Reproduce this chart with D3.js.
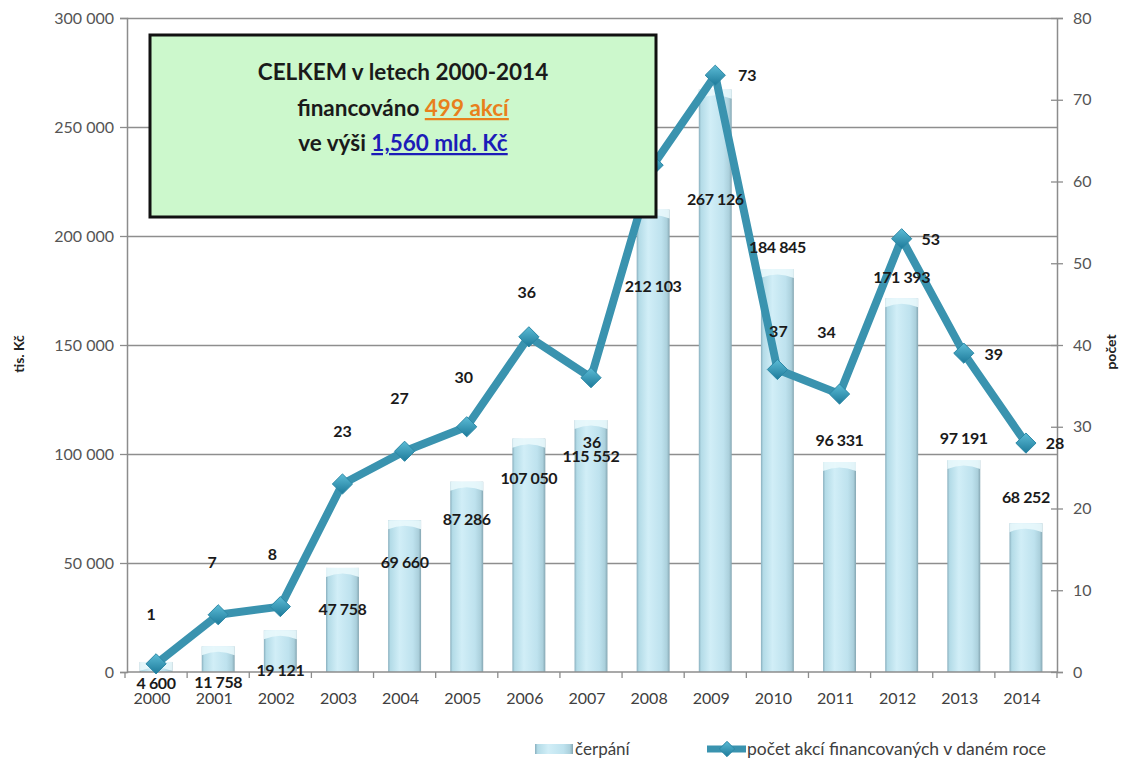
<!DOCTYPE html>
<html>
<head>
<meta charset="utf-8">
<script src="https://cdn.jsdelivr.net/npm/d3@7"></script>
<style>
	body { margin: 0; background: #fff; }
	svg { display: block; }
	text { font-family: Lato, "Noto Sans", sans-serif; }
</style>
</head>
<body>
<div id="graf"></div>
<script>
// -----DATA-----
var roky = ["2000", "2001", "2002", "2003", "2004", "2005", "2006", "2007", "2008", "2009", "2010", "2011", "2012", "2013", "2014"];
// čerpání v tis. Kč
var cerpani = [4600, 11758, 19121, 47758, 69660, 87286, 107050, 115552, 212103, 267126, 184845, 96331, 171393, 97191, 68252];
// počet akcí financovaných v daném roce
var pocet = [1, 7, 8, 23, 27, 30, 41, 36, 62, 73, 37, 34, 53, 39, 28];
// popisky tak, jak jsou v originále (2006 má popisek 36)
var pocetPopisky = ["1", "7", "8", "23", "27", "30", "36", "36", "62", "73", "37", "34", "53", "39", "28"];
var levaOsaTicks = [0, 50000, 100000, 150000, 200000, 250000, 300000];
var pravaOsaTicks = [0, 10, 20, 30, 40, 50, 60, 70, 80];

// -----ROZMĚRY-----
var width = 1125,
	height = 771;
var levy = 127,
	pravy = 1057,
	horni = 18,
	dolni = 672;

var x = d3.scaleBand().domain(roky).range([levy - 2, pravy]).paddingInner(0.47).paddingOuter(0.235);
var xStred = d3.scaleBand().domain(roky).range([levy - 2, pravy]);
var y = d3.scaleLinear().domain([0, 300000]).range([dolni, horni]);
var y2 = d3.scaleLinear().domain([0, 80]).range([dolni, horni]);

var fmt = function (v) {
	return d3.format(",")(v).replace(/,/g, " ");
};

var svg = d3.select("#graf").append("svg")
	.attr("width", width)
	.attr("height", height);

var defs = svg.append("defs");

// gradient válce
var gBar = defs.append("linearGradient").attr("id", "sloupec").attr("x1", 0).attr("x2", 1).attr("y1", 0).attr("y2", 0);
gBar.append("stop").attr("offset", "0%").attr("stop-color", "#89afbe");
gBar.append("stop").attr("offset", "7%").attr("stop-color", "#b3dbe7");
gBar.append("stop").attr("offset", "35%").attr("stop-color", "#d1eef7");
gBar.append("stop").attr("offset", "75%").attr("stop-color", "#bee2ee");
gBar.append("stop").attr("offset", "92%").attr("stop-color", "#abd0dc");
gBar.append("stop").attr("offset", "100%").attr("stop-color", "#85a6b2");

var gDia = defs.append("linearGradient").attr("id", "kosoctverec").attr("x1", 0).attr("x2", 0).attr("y1", 0).attr("y2", 1);
gDia.append("stop").attr("offset", "0%").attr("stop-color", "#5cbcd6");
gDia.append("stop").attr("offset", "100%").attr("stop-color", "#1d7a9a");

// -----MŘÍŽKA-----
svg.append("g").selectAll("line")
	.data(levaOsaTicks.filter(function (d) { return d > 0; }))
	.enter().append("line")
	.attr("x1", levy).attr("x2", pravy)
	.attr("y1", function (d) { return Math.round(y(d)) + 0.5; })
	.attr("y2", function (d) { return Math.round(y(d)) + 0.5; })
	.attr("stroke", "#8e8e8e")
	.attr("stroke-width", 1.4);

// -----SLOUPCE-----
var sloupce = svg.append("g").selectAll("g")
	.data(cerpani)
	.enter().append("g");

sloupce.append("rect")
	.attr("x", function (d, i) { return x(roky[i]); })
	.attr("y", function (d) { return y(d); })
	.attr("width", x.bandwidth())
	.attr("height", function (d) { return dolni - y(d); })
	.attr("fill", "url(#sloupec)");

// světlý vrchlík válce
sloupce.append("path")
	.attr("d", function (d, i) {
		var x0 = x(roky[i]), w = x.bandwidth(), t = y(d);
		var h = Math.min(9, dolni - t);
		return "M" + x0 + "," + t + "h" + w + "v" + h + "q" + (-w / 2) + "," + (-7) + " " + (-w) + ",0z";
	})
	.attr("fill", "#e9f8fc")
	.attr("opacity", 0.9);

// -----OSY-----
var osaX = svg.append("g").attr("transform", "translate(0," + dolni + ")");
osaX.append("line").attr("x1", levy).attr("x2", pravy).attr("stroke", "#8c8c8c").attr("stroke-width", 1.5);
osaX.selectAll("line.tick")
	.data(roky.concat(["konec"]))
	.enter().append("line")
	.attr("class", "tick")
	.attr("x1", function (d, i) { return levy - 2 + xStred.step() * i; })
	.attr("x2", function (d, i) { return levy - 2 + xStred.step() * i; })
	.attr("y1", 0).attr("y2", 6)
	.attr("stroke", "#8c8c8c").attr("stroke-width", 1.3);

var levaOsa = d3.axisLeft(y).tickValues(levaOsaTicks).tickSize(7).tickFormat(fmt);
var gL = svg.append("g").attr("transform", "translate(" + levy + ",0)").call(levaOsa);
var pravaOsa = d3.axisRight(y2).tickValues(pravaOsaTicks).tickSize(6);
var gR = svg.append("g").attr("transform", "translate(" + pravy + ",0)").call(pravaOsa);

[gL, gR].forEach(function (g) {
	g.select(".domain").attr("stroke", "#8c8c8c").attr("stroke-width", 1.5);
	g.selectAll(".tick line").attr("stroke", "#8c8c8c").attr("stroke-width", 1.3);
	g.selectAll(".tick text").attr("fill", "#555").style("font-size", "16px")
		.style("font-family", "Lato, 'Noto Sans', sans-serif");
});
gL.selectAll(".tick text").attr("x", -13);
gR.selectAll(".tick line").attr("x1", -6);
gR.selectAll(".tick text").attr("x", 16);

// popisky let
svg.append("g").selectAll("text")
	.data(roky)
	.enter().append("text")
	.attr("x", function (d) { return xStred(d) + xStred.bandwidth() / 2 - 4; })
	.attr("y", 704)
	.attr("text-anchor", "middle")
	.attr("fill", "#404040")
	.style("font-size", "16px")
	.text(function (d) { return d; });

// názvy os
svg.append("text")
	.attr("transform", "translate(24,354) rotate(-90)")
	.attr("text-anchor", "middle")
	.attr("font-weight", "bold")
	.attr("fill", "#222")
	.style("font-size", "14px")
	.text("tis. Kč");
svg.append("text")
	.attr("transform", "translate(1116,352) rotate(-90)")
	.attr("text-anchor", "middle")
	.attr("font-weight", "bold")
	.attr("fill", "#222")
	.style("font-size", "14px")
	.text("počet");

// -----ČÁRA-----
var cara = d3.line()
	.x(function (d, i) { return xStred(roky[i]) + xStred.bandwidth() / 2; })
	.y(function (d) { return y2(d); });

svg.append("path")
	.datum(pocet)
	.attr("d", cara)
	.attr("fill", "none")
	.attr("stroke", "#3a93af")
	.attr("stroke-width", 8)
	.attr("stroke-linejoin", "round");

var diamant = d3.symbol().type(d3.symbolDiamond2).size(260);
svg.append("g").selectAll("path")
	.data(pocet)
	.enter().append("path")
	.attr("d", diamant)
	.attr("transform", function (d, i) {
		return "translate(" + (xStred(roky[i]) + xStred.bandwidth() / 2) + "," + y2(d) + ")";
	})
	.attr("fill", "url(#kosoctverec)")
	.attr("stroke", "#2b88a6")
	.attr("stroke-width", 1);

// -----POPISKY DAT-----
// posuny popisků (ručně rozmístěné jako v Excelu)
var sloupecDy = [21, 36, 40, 42, 42, 38, 40, 36, 77, 110, -22, -22, -21, -22, -26];
var bodPosun = [[-5, -49], [-6, -52], [-8, -52], [0, -53], [-5, -53], [-3, -49], [-2, -44], [1, 65],
	[-20, -50], [32, 0], [1, -38], [-13, -62], [29, 1], [30, 1], [29, 0]];

svg.append("g").selectAll("text")
	.data(cerpani)
	.enter().append("text")
	.attr("x", function (d, i) { return xStred(roky[i]) + xStred.bandwidth() / 2; })
	.attr("y", function (d, i) { return y(d) + sloupecDy[i]; })
	.attr("dy", "0.35em")
	.attr("text-anchor", "middle")
	.attr("font-weight", "bold")
	.attr("fill", "#1a1a1a")
	.attr("letter-spacing", "-0.4")
	.style("font-size", "16px")
	.text(fmt);

svg.append("g").selectAll("text")
	.data(pocet)
	.enter().append("text")
	.attr("x", function (d, i) { return xStred(roky[i]) + xStred.bandwidth() / 2 + bodPosun[i][0]; })
	.attr("y", function (d, i) { return y2(d) + bodPosun[i][1]; })
	.attr("dy", "0.35em")
	.attr("text-anchor", "middle")
	.attr("font-weight", "bold")
	.attr("fill", "#1a1a1a")
	.style("font-size", "16px")
	.text(function (d, i) { return pocetPopisky[i]; });

// -----RÁMEČEK SE SOUHRNEM-----
var box = svg.append("g");
box.append("rect")
	.attr("x", 150).attr("y", 35)
	.attr("width", 506).attr("height", 182)
	.attr("fill", "#ccf8cc")
	.attr("stroke", "#111")
	.attr("stroke-width", 3);

var boxText = box.append("text")
	.attr("text-anchor", "middle")
	.attr("font-weight", "bold")
	.attr("fill", "#1a1a1a")
	.style("font-size", "22.5px");
boxText.append("tspan").attr("x", 403).attr("y", 80).text("CELKEM v letech 2000-2014");
var r2 = boxText.append("tspan").attr("x", 403).attr("y", 116);
r2.append("tspan").text("financováno ");
r2.append("tspan").attr("fill", "#e8801c").attr("text-decoration", "underline").text("499 akcí");
var r3 = boxText.append("tspan").attr("x", 403).attr("y", 151);
r3.append("tspan").text("ve výši ");
r3.append("tspan").attr("fill", "#1c1cb8").attr("text-decoration", "underline").text("1,560 mld. Kč");

// -----LEGENDA-----
var leg = svg.append("g");
leg.append("rect")
	.attr("x", 535).attr("y", 744)
	.attr("width", 38).attr("height", 10)
	.attr("fill", "url(#sloupec)");
leg.append("text")
	.attr("x", 575).attr("y", 755)
	.attr("fill", "#404040")
	.style("font-size", "17px")
	.text("čerpání");
leg.append("line")
	.attr("x1", 707).attr("x2", 746)
	.attr("y1", 749).attr("y2", 749)
	.attr("stroke", "#3a93af").attr("stroke-width", 7);
leg.append("path")
	.attr("d", d3.symbol().type(d3.symbolDiamond2).size(150))
	.attr("transform", "translate(727,749)")
	.attr("fill", "url(#kosoctverec)")
	.attr("stroke", "#2b88a6");
leg.append("text")
	.attr("x", 747).attr("y", 755)
	.attr("fill", "#404040")
	.style("font-size", "17.5px")
	.text("počet akcí financovaných v daném roce");
</script>
</body>
</html>
